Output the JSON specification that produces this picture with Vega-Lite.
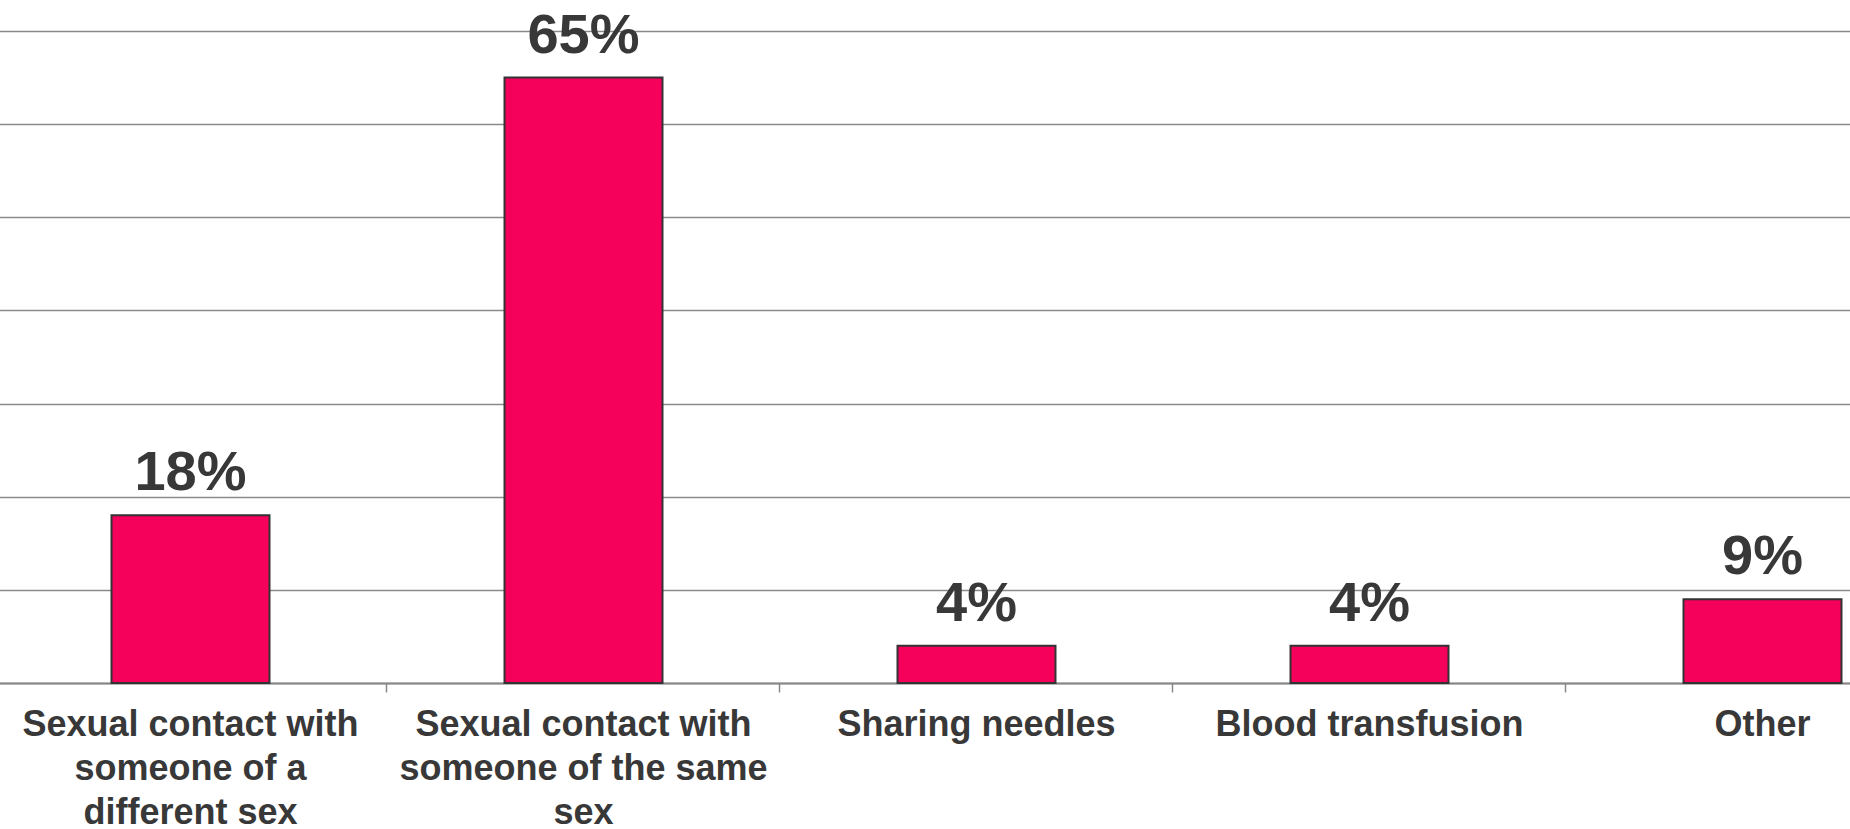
{
  "$schema": "https://vega.github.io/schema/vega-lite/v6.json",
  "width": 1850,
  "height": 652,
  "autosize": {"type": "none"},
  "padding": {"left": 0, "top": 31, "right": 0, "bottom": 146},
  "background": "white",
  "config": {"view": {"stroke": null}, "font": "Liberation Sans"},
  "data": {
    "values": [
      {"route": "Sexual contact with someone of a different sex", "share": 18},
      {"route": "Sexual contact with someone of the same sex", "share": 65},
      {"route": "Sharing needles", "share": 4},
      {"route": "Blood transfusion", "share": 4},
      {"route": "Other", "share": 9}
    ]
  },
  "encoding": {
    "x": {
      "field": "route",
      "type": "nominal",
      "sort": null,
      "scale": {"range": [-6, 1959], "paddingInner": 0.598, "paddingOuter": 0.299},
      "axis": {
        "title": null,
        "labelAngle": 0,
        "labelFont": "Liberation Sans",
        "labelFontSize": 36,
        "labelFontWeight": "bold",
        "labelColor": "#383838",
        "labelLineHeight": 44,
        "labelPadding": 15,
        "labelBaseline": "top",
        "labelLimit": 0,
        "labelExpr": "datum.label == 'Sexual contact with someone of a different sex' ? ['Sexual contact with', 'someone of a', 'different sex'] : datum.label == 'Sexual contact with someone of the same sex' ? ['Sexual contact with', 'someone of the same', 'sex'] : datum.label",
        "bandPosition": -0.744,
        "ticks": true,
        "tickSize": 9,
        "tickColor": "#888888",
        "tickWidth": 1.5,
        "domainColor": "#888888",
        "domainWidth": 2,
        "grid": false
      }
    },
    "y": {
      "field": "share",
      "type": "quantitative",
      "scale": {"domain": [0, 70], "nice": false},
      "axis": {
        "title": null,
        "labels": false,
        "ticks": false,
        "domain": false,
        "values": [0, 10, 20, 30, 40, 50, 60, 70],
        "grid": true,
        "gridColor": "#8a8a8a",
        "gridWidth": 1.5
      }
    }
  },
  "layer": [
    {"mark": {"type": "bar", "color": "#F5005A", "stroke": "#333333", "strokeWidth": 2}},
    {
      "mark": {
        "type": "text",
        "baseline": "alphabetic",
        "dy": -25,
        "font": "Liberation Sans",
        "fontSize": 56,
        "fontWeight": "bold",
        "color": "#383838",
        "text": {"expr": "format(datum.share, 'd') + '%'"}
      },
      "encoding": {}
    }
  ]
}
